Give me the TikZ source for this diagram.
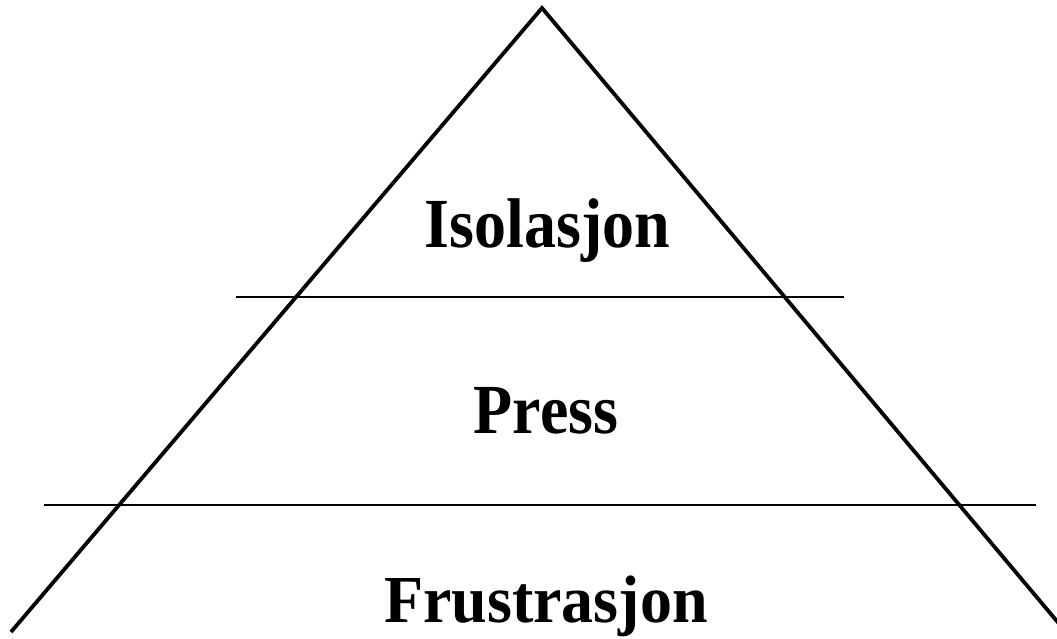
\documentclass[tikz,border=0pt]{standalone}
\usepackage{fontspec}
\setmainfont{Liberation Serif}
\begin{document}
\begin{tikzpicture}[x=1pt,y=-1pt,
  side/.style={line width=3.8pt},
  divider/.style={line width=2pt},
  label/.style={font=\fontsize{64}{64}\selectfont\bfseries, anchor=base, inner sep=0pt}]
\useasboundingbox (0,0) rectangle (1057,638);
\clip (0,0) rectangle (1057,638);
\coordinate (apex) at (542,8);
\coordinate (bl) at (11,632);
\coordinate (br) at (1066,632);
\coordinate (d1l) at (236,297);
\coordinate (d1r) at (844,297);
\coordinate (d2l) at (44,505);
\coordinate (d2r) at (1036,505);
\draw[side, line join=miter] (bl) -- (apex) -- (br);
\draw[divider] (d1l) -- (d1r);
\draw[divider] (d2l) -- (d2r);
\node[label] (iso) at (547.5,247) {\scalebox{1}[1.1]{Isolasjon}};
\node[label] (press) at (546,433) {\scalebox{1}[1.1]{Press}};
\node[label] (frus) at (546,622) {\scalebox{1}[1.05]{Frustrasjon}};
\end{tikzpicture}
\end{document}
